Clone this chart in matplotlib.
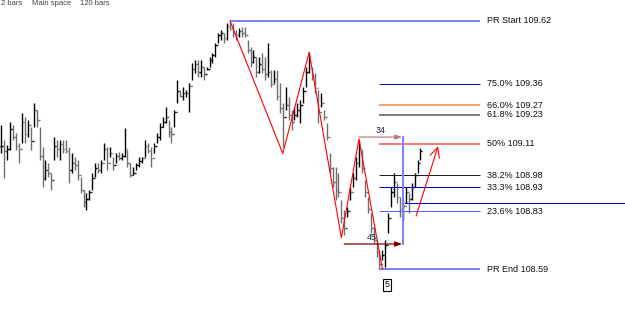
import numpy as np
import matplotlib.pyplot as plt
from matplotlib.collections import LineCollection

# bar data (price), one bar per index
highs = [109.188, 109.126, 109.105, 109.201, 109.188, 109.155, 109.113, 109.238, 109.221, 109.209, 109.180, 109.279,
         109.250, 109.180, 109.097, 109.043, 109.030, 108.989, 109.138, 109.126, 109.126, 109.126, 109.126, 109.097,
         109.072, 109.055, 109.043, 108.972, 108.918, 108.906, 108.918, 108.989, 109.030, 109.030, 109.043, 109.113,
         109.097, 109.097, 109.055, 109.072, 109.076, 109.072, 109.176, 109.084, 109.030, 109.014, 109.030, 109.055,
         109.055, 109.126, 109.113, 109.097, 109.113, 109.155, 109.196, 109.221, 109.263, 109.209, 109.180, 109.250,
         109.375, 109.333, 109.346, 109.333, 109.362, 109.446, 109.458, 109.458, 109.458, 109.429, 109.429, 109.470,
         109.487, 109.529, 109.570, 109.583, 109.570, 109.612, 109.620, 109.612, 109.583, 109.591, 109.595, 109.595,
         109.541, 109.512, 109.500, 109.470, 109.470, 109.487, 109.470, 109.529, 109.417, 109.417, 109.417, 109.362,
         109.279, 109.346, 109.304, 109.250, 109.263, 109.279, 109.292, 109.346, 109.429, 109.491, 109.429, 109.404,
         109.333, 109.321, 109.250, 109.196, 109.072, 109.014, 109.014, 108.989, 108.877, 108.835, 108.848, 108.931,
         108.989, 109.055, 109.126, 109.084, 108.960, 108.889, 108.823, 108.765, 108.711, 108.669, 108.669, 108.711,
         108.823, 108.931, 108.989, 108.947, 108.889, 108.877, 108.931, 108.906, 108.947, 108.989, 109.043, 109.093]
lows = [109.072, 108.968, 109.043, 109.084, 109.126, 109.084, 109.030, 109.113, 109.113, 109.138, 109.084, 109.180,
        109.180, 109.043, 108.931, 108.960, 108.972, 108.918, 109.043, 109.055, 109.043, 109.072, 109.072, 108.947,
        108.989, 109.001, 108.960, 108.906, 108.848, 108.835, 108.877, 108.918, 108.972, 108.989, 108.989, 109.043,
        109.001, 109.055, 109.001, 109.030, 109.043, 109.043, 109.055, 109.014, 108.972, 108.980, 109.001, 109.014,
        109.030, 109.055, 109.072, 109.014, 109.072, 109.113, 109.126, 109.180, 109.196, 109.138, 109.113, 109.180,
        109.279, 109.304, 109.292, 109.304, 109.242, 109.375, 109.404, 109.387, 109.387, 109.375, 109.417, 109.429,
        109.446, 109.470, 109.529, 109.541, 109.529, 109.541, 109.583, 109.554, 109.541, 109.554, 109.554, 109.554,
        109.487, 109.429, 109.446, 109.387, 109.404, 109.404, 109.375, 109.387, 109.346, 109.362, 109.292, 109.238,
        109.097, 109.250, 109.209, 109.167, 109.209, 109.221, 109.196, 109.279, 109.346, 109.404, 109.375, 109.321,
        109.196, 109.263, 109.209, 109.126, 108.989, 108.931, 108.877, 108.889, 108.781, 108.731, 108.806, 108.877,
        108.931, 108.960, 109.014, 108.989, 108.889, 108.823, 108.740, 108.698, 108.640, 108.586, 108.627, 108.598,
        108.740, 108.848, 108.889, 108.864, 108.806, 108.794, 108.864, 108.823, 108.877, 108.931, 108.989, 109.043]
closes = [109.10, 109.08, 109.09, 109.17, 109.14, 109.10, 109.09, 109.20, 109.15, 109.19, 109.12, 109.25,
          109.21, 109.06, 108.97, 109.00, 108.99, 108.96, 109.10, 109.09, 109.11, 109.09, 109.08, 109.00,
          109.03, 109.02, 108.98, 108.92, 108.87, 108.88, 108.91, 108.97, 109.01, 109.00, 109.03, 109.09,
          109.03, 109.07, 109.02, 109.06, 109.05, 109.06, 109.09, 109.03, 108.98, 108.99, 109.02, 109.04,
          109.05, 109.10, 109.08, 109.05, 109.10, 109.14, 109.18, 109.20, 109.22, 109.16, 109.15, 109.24,
          109.33, 109.31, 109.32, 109.32, 109.35, 109.42, 109.44, 109.41, 109.43, 109.40, 109.42, 109.46,
          109.48, 109.52, 109.56, 109.57, 109.55, 109.60, 109.59, 109.57, 109.56, 109.58, 109.57, 109.56,
          109.50, 109.45, 109.47, 109.41, 109.44, 109.42, 109.40, 109.41, 109.36, 109.38, 109.31, 109.26,
          109.22, 109.27, 109.23, 109.20, 109.23, 109.25, 109.27, 109.33, 109.41, 109.45, 109.39, 109.34,
          109.24, 109.28, 109.22, 109.14, 109.01, 108.95, 108.92, 108.91, 108.80, 108.76, 108.83, 108.91,
          108.97, 109.03, 109.09, 109.01, 108.91, 108.84, 108.76, 108.71, 108.66, 108.61, 108.65, 108.69,
          108.80, 108.91, 108.95, 108.89, 108.84, 108.85, 108.91, 108.88, 108.93, 108.98, 109.03, 109.08]

# zigzag swing points (bar index, price)
zz_bars = [78, 96, 105, 116, 122, 130]
zz_prices = [109.62, 109.07, 109.49, 108.72, 109.13, 108.59]

# retracement levels
level_names = ['PR Start', '75.0%', '66.0%', '61.8%', '50%', '38.2%', '33.3%', '23.6%', 'PR End']
level_prices = [109.62, 109.36, 109.27, 109.23, 109.11, 108.98, 108.93, 108.83, 108.59]
level_start = [78, 129, 129, 129, 129, 129, 129, 129, 129]
level_colors = ['#8080ff', '#1010c0', '#ffa070', '#808080', '#ff7878',
                '#202020', '#0000cc', '#5a5aff', '#8080ff']
level_lw = [1.44, 0.72, 1.44, 1.44, 1.44, 0.72, 0.72, 0.72, 1.44]
extra_level = 108.864

# measurement of swing lengths
count_top, count_bottom = '34', '45'
top_price, bottom_price = 109.138, 108.694

n = len(highs)
x = np.arange(n)
opens = np.r_[closes[0], closes[:-1]]
cols = np.where(np.array(closes) >= opens, '#000000', '#6e6e6e')

fig = plt.figure(figsize=(6.25, 3.24), dpi=100)
ax = fig.add_axes([0, 0, 1, 1])
ax.set_xlim(-0.51, 212.8)
ax.set_ylim(108.362, 109.707)
ax.axis('off')

segs = []
for i in range(n):
    segs.append([(x[i], lows[i]), (x[i], highs[i])])
    segs.append([(x[i] - 0.45, opens[i]), (x[i], opens[i])])
    segs.append([(x[i], closes[i]), (x[i] + 0.45, closes[i])])
ax.add_collection(LineCollection(segs, colors=np.repeat(cols, 3), linewidths=1.0))

# levels
for name, p, s, c, lw in zip(level_names, level_prices, level_start, level_colors, level_lw):
    ax.plot([s, 163.3], [p, p], color=c, lw=lw, solid_capstyle='butt')
    ax.text(165.7, p, f'{name} {p:.2f}', fontsize=6.5, family='Liberation Sans',
            va='center', ha='left', color='#101010')
ax.plot([137.7, 213], [extra_level, extra_level], color='#0000cc', lw=0.72)

# zigzag
ax.plot(zz_bars, zz_prices, color='#ff0000', lw=0.8)

# vertical measure line and count arrows
ax.plot([137, 137], [bottom_price, top_price], color='#8080ff', lw=1.44)
ax.annotate('', xy=(136.7, top_price), xytext=(122, top_price),
            arrowprops=dict(arrowstyle='-|>,head_length=0.4,head_width=0.15',
                            color='#c08080', lw=0.9, shrinkA=0, shrinkB=0))
ax.annotate('', xy=(136.7, bottom_price), xytext=(117, bottom_price),
            arrowprops=dict(arrowstyle='-|>,head_length=0.4,head_width=0.15',
                            color='#800000', lw=0.9, shrinkA=0, shrinkB=0))
ax.text(129.5, top_price + 0.008, count_top, fontsize=6.5, family='Liberation Sans',
        ha='center', va='bottom', color='#202040')
ax.text(126.5, bottom_price + 0.008, count_bottom, fontsize=6.5, family='Liberation Sans',
        ha='center', va='bottom', color='#202040')

# projection arrow
ax.annotate('', xy=(149, 109.10), xytext=(141.5, 108.81),
            arrowprops=dict(arrowstyle='->,head_length=0.7,head_width=0.35',
                            color='#ff0000', lw=0.8, shrinkA=0, shrinkB=0))

# wave label
ax.text(131.6, 108.524, '5', fontsize=6.5, family='Liberation Sans', ha='center', va='center',
        bbox=dict(boxstyle='square,pad=0.2', fc='white', ec='black', lw=0.8))

# header line at the very top
for xp, t in [(1, '2 bars'), (32, 'Main space'), (80, '120 bars')]:
    fig.text(xp / 625, 1.0, t, fontsize=5.5, family='Liberation Sans',
             va='top', ha='left', color='#404040')

plt.savefig('out.png', dpi=100)
